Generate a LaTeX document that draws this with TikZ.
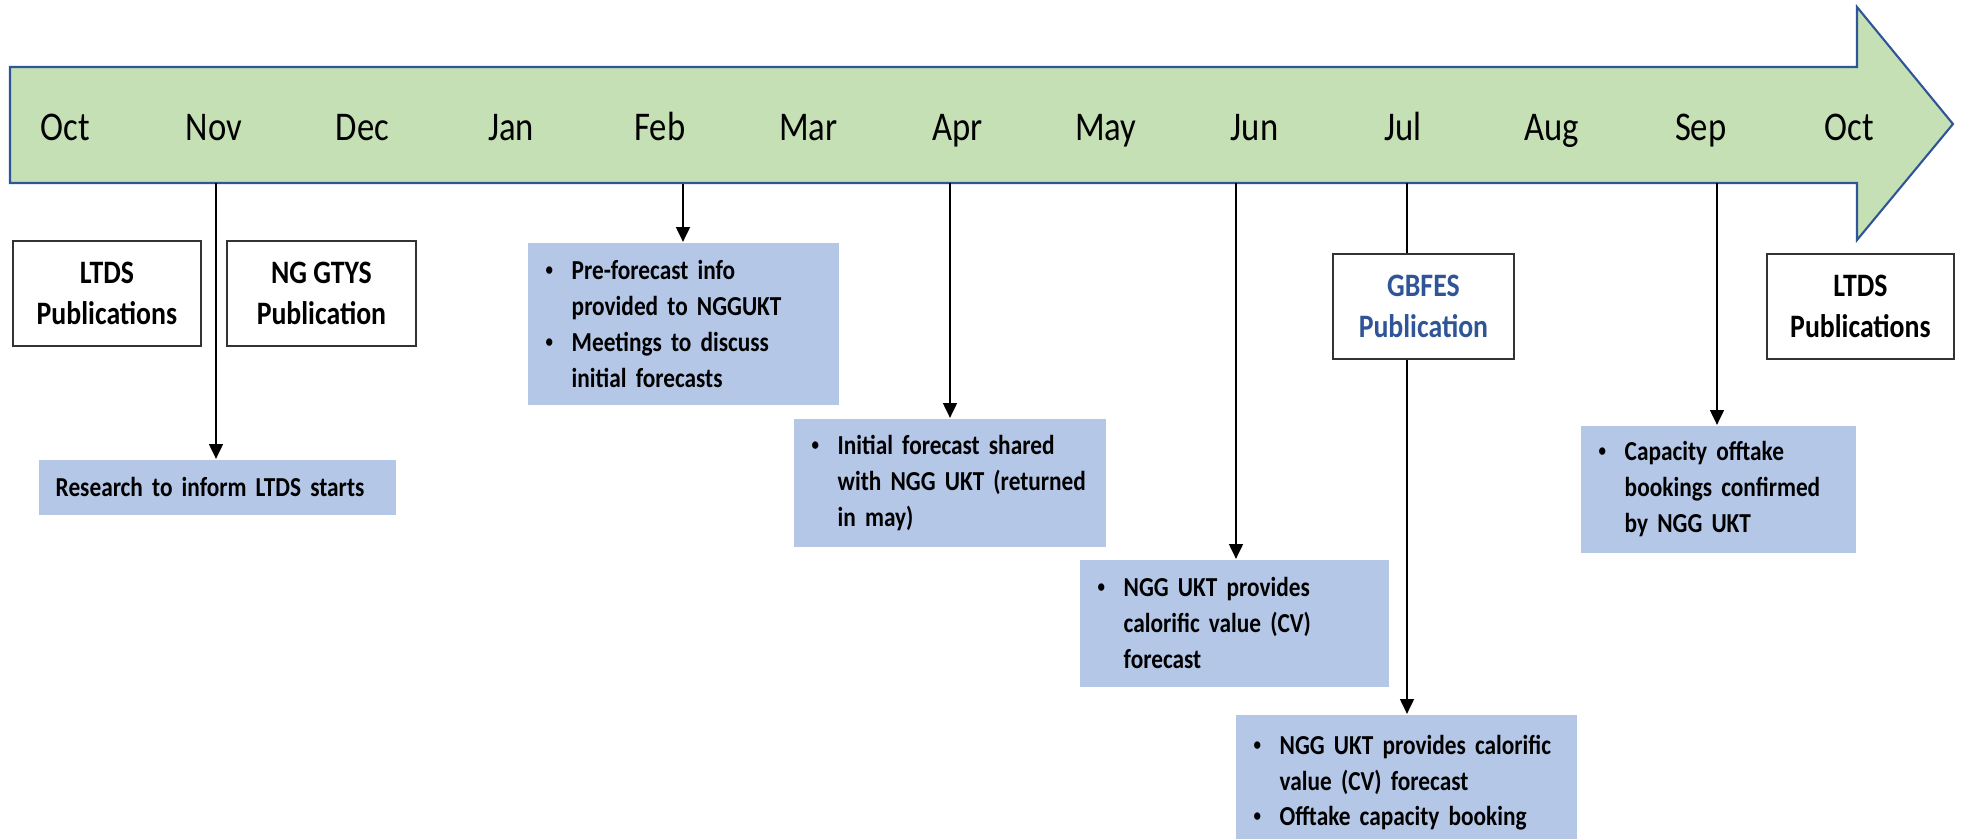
\documentclass[tikz,border=0pt]{standalone}
\usepackage{fontspec}
\setmainfont{Carlito}[FakeStretch=0.85]
\usetikzlibrary{arrows.meta}

\definecolor{bargreen}{HTML}{C5E0B4}
\definecolor{barblue}{HTML}{2F5597}
\definecolor{noteblue}{HTML}{B4C7E7}

\tikzset{
  month/.style={anchor=base, font=\fontsize{11.6pt}{13pt}\selectfont},
  pubbox/.style={draw=black!80, line width=0.5pt, fill=white, anchor=north west,
    inner sep=0pt, minimum height=1.05cm, align=center,
    font=\fontsize{9.3pt}{11.4pt}\selectfont\bfseries},
  note/.style={fill=noteblue, anchor=north west, inner xsep=0.18cm, inner ysep=0pt,
    align=left, font=\fontsize{7.8pt}{10.2pt}\selectfont\bfseries},
  link/.style={line width=0.8pt, -{Triangle[length=4.2pt,width=3.8pt]}},
  plain/.style={line width=0.8pt},
}
\newcommand{\bul}{\makebox[0.26cm][l]{\raisebox{0.3ex}{\fontsize{5pt}{5pt}\selectfont\textbullet}}}
\newcommand{\ind}{\hspace*{0.26cm}}

\begin{document}
\begin{tikzpicture}[x=0.01cm,y=-0.01cm]
\useasboundingbox (0,0) rectangle (1962,838);

% Timeline arrow
\draw[fill=bargreen, draw=barblue, line width=0.6pt]
  (10,67) -- (1857,67) -- (1857,7) -- (1953,124) -- (1857,240) -- (1857,183) -- (10,183) -- cycle;

% Months
\def\gap{148.7}
\node[month] (mOctA) at (65,140) {Oct};
\node[month] (mNov) at (65+\gap,140) {Nov};
\node[month] (mDec) at (65+2*\gap,140) {Dec};
\node[month] (mJan) at (65+3*\gap,140) {Jan};
\node[month] (mFeb) at (65+4*\gap,140) {Feb};
\node[month] (mMar) at (65+5*\gap,140) {Mar};
\node[month] (mApr) at (65+6*\gap,140) {Apr};
\node[month] (mMay) at (65+7*\gap,140) {May};
\node[month] (mJun) at (65+8*\gap,140) {Jun};
\node[month] (mJul) at (65+9*\gap,140) {Jul};
\node[month] (mAug) at (65+10*\gap,140) {Aug};
\node[month] (mSep) at (65+11*\gap,140) {Sep};
\node[month] (mOctB) at (65+12*\gap,140) {Oct};

% Where the connectors leave the bar
\coordinate (tNov) at (216,183);
\coordinate (tFeb) at (683,184);
\coordinate (tApr) at (950,183);
\coordinate (tJun) at (1236,183);
\coordinate (tJul) at (1407,183);
\coordinate (tSep) at (1717,183);

% Publications
\node[pubbox, minimum width=1.88cm] (ltdsA) at (12,240) {LTDS\\Publications};
\node[pubbox, minimum width=1.89cm] (gtys) at (226,240) {NG GTYS\\Publication};
\node[pubbox, minimum width=1.81cm, text=barblue] (gbfes) at (1332,253) {GBFES\\Publication};
\node[pubbox, minimum width=1.87cm] (ltdsB) at (1766,253) {LTDS\\Publications};

% Activities
\node[note, inner xsep=0.17cm, text width=3.23cm, minimum height=0.55cm] (research) at (38,459)
  {Research to inform LTDS starts};
\node[note, text width=2.75cm, minimum height=1.62cm] (prefc) at (527,242)
  {\bul Pre-forecast info\\ \ind provided to NGGUKT\\ \bul Meetings to discuss\\ \ind initial forecasts};
\node[note, text width=2.76cm, minimum height=1.28cm] (initfc) at (793,418)
  {\bul Initial forecast shared\\ \ind with NGG UKT (returned\\ \ind in may)};
\node[note, text width=2.73cm, minimum height=1.27cm] (cvfc) at (1079,559)
  {\bul NGG UKT provides\\ \ind calorific value (CV)\\ \ind forecast};
\node[note, text width=3.05cm, minimum height=1.36cm] (booking) at (1235,714)
  {\bul NGG UKT provides calorific\\ \ind value (CV) forecast\\ \bul Offtake capacity booking};
\node[note, text width=2.39cm, minimum height=1.27cm] (confirm) at (1580,425)
  {\bul Capacity offtake\\ \ind bookings confirmed\\ \ind by NGG UKT};

% Connectors
\draw[link] (tNov) -- (tNov |- research.north);
\draw[link] (tFeb) -- (tFeb |- prefc.north);
\draw[link] (tApr) -- (tApr |- initfc.north);
\draw[link] (tJun) -- (tJun |- cvfc.north);
\draw[plain] (tJul) -- (tJul |- gbfes.north);
\draw[link] (tJul |- gbfes.south) -- (tJul |- booking.north);
\draw[link] (tSep) -- (tSep |- confirm.north);

\end{tikzpicture}
\end{document}
